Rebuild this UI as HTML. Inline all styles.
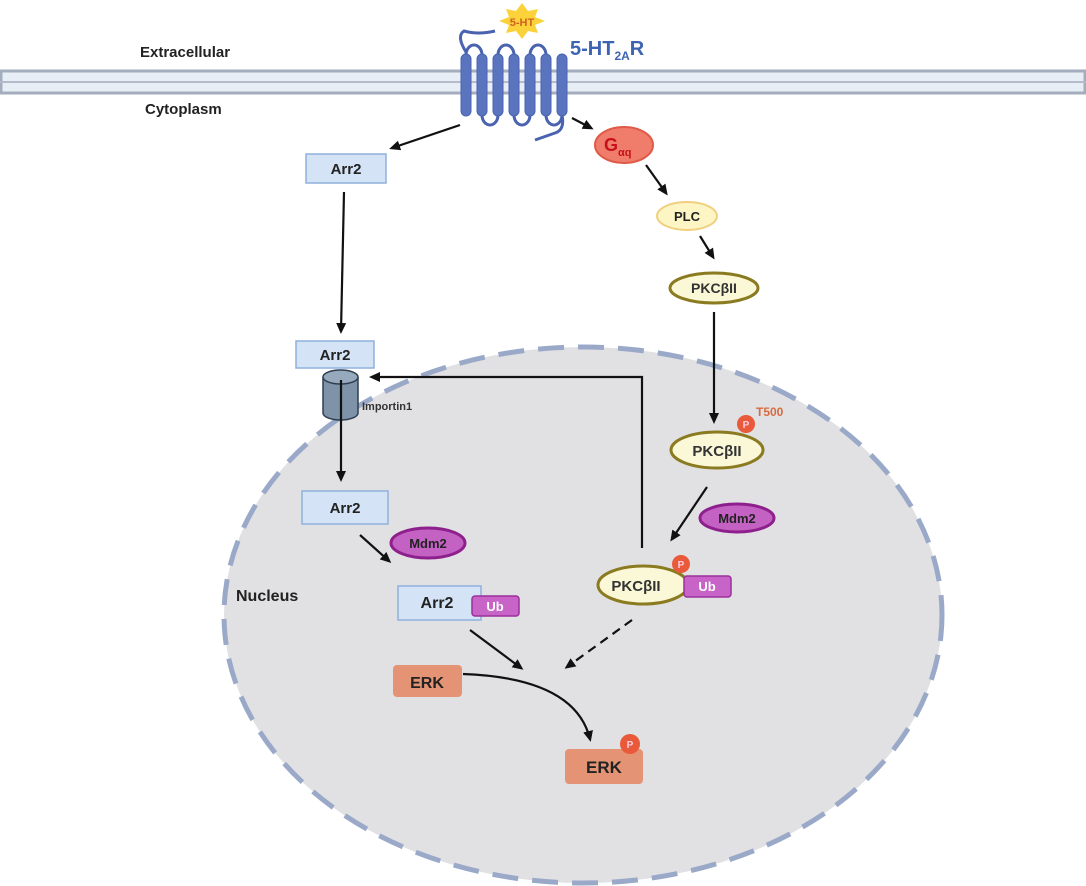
<!DOCTYPE html>
<html><head><meta charset="utf-8"><style>
html,body{margin:0;padding:0;background:#fff}
svg{display:block}
text{font-family:"Liberation Sans",Arial,sans-serif;font-weight:bold}
</style></head><body>
<svg width="1086" height="886" viewBox="0 0 1086 886" xmlns="http://www.w3.org/2000/svg">
<defs>
<marker id="ah" markerWidth="11" markerHeight="10" refX="8" refY="5" orient="auto" markerUnits="userSpaceOnUse"><path d="M0,0 L11,5 L0,10 Z" fill="#111"/></marker>
</defs>
<ellipse cx="583" cy="615" rx="359" ry="268" fill="#e1e1e3" stroke="#9ba9c9" stroke-width="5" stroke-dasharray="26,14"/>
<rect x="1" y="71" width="1084" height="22" fill="#e8eef6" stroke="#a3adbd" stroke-width="3"/>
<line x1="0" y1="82" x2="1086" y2="82" stroke="#b4bccb" stroke-width="2"/>
<text x="140" y="57" font-size="15" fill="#222">Extracellular</text>
<text x="145" y="114" font-size="15" fill="#222">Cytoplasm</text>
<text x="236" y="601" font-size="16" fill="#222">Nucleus</text>
<!-- receptor -->
<g fill="none" stroke="#4a63b0" stroke-width="3">
<path d="M466,52 Q456,36 464,31 Q478,35 495,31"/>
<path d="M466,55 A8,10 0 0 1 482,55"/>
<path d="M498,55 A8,10 0 0 1 514,55"/>
<path d="M530,55 A8,10 0 0 1 546,55"/>
<path d="M482,115 A8,10 0 0 0 498,115"/>
<path d="M514,115 A8,10 0 0 0 530,115"/>
<path d="M546,115 A8,10 0 0 0 562,115"/>
<path d="M562,115 Q565,130 555,133 L535,140"/>
</g>
<g fill="#5a74c0" stroke="#4a63b0" stroke-width="1">
<rect x="461" y="54" width="10" height="62" rx="5"/>
<rect x="477" y="54" width="10" height="62" rx="5"/>
<rect x="493" y="54" width="10" height="62" rx="5"/>
<rect x="509" y="54" width="10" height="62" rx="5"/>
<rect x="525" y="54" width="10" height="62" rx="5"/>
<rect x="541" y="54" width="10" height="62" rx="5"/>
<rect x="557" y="54" width="10" height="62" rx="5"/>
</g>
<polygon points="522,3 528,11 538,9 535,17 545,21 535,25 538,33 528,31 522,39 516,31 506,33 509,25 499,21 509,17 506,9 516,11" fill="#fbd23a"/>
<text x="522" y="26" font-size="11" fill="#d06020" text-anchor="middle">5-HT</text>
<text x="570" y="55" font-size="20" fill="#3d64b0">5-HT<tspan font-size="12" dy="5">2A</tspan><tspan dy="-5">R</tspan></text>
<!-- arrows -->
<g stroke="#111" stroke-width="2.2" fill="none" marker-end="url(#ah)">
<line x1="460" y1="125" x2="392" y2="148"/>
<line x1="572" y1="118" x2="591" y2="128"/>
<line x1="646" y1="165" x2="666" y2="193"/>
<line x1="700" y1="236" x2="713" y2="257"/>
<line x1="344" y1="192" x2="341" y2="331"/>
<polyline points="642,548 642,377 372,377"/>
<line x1="714" y1="312" x2="714" y2="421"/>
<line x1="707" y1="487" x2="672" y2="539"/>
<line x1="360" y1="535" x2="389" y2="561"/>
<line x1="470" y1="630" x2="521" y2="668"/>
<path d="M463,674 Q575,678 590,739"/>
</g>
<line x1="632" y1="620" x2="567" y2="667" stroke="#111" stroke-width="2.2" stroke-dasharray="9,6" marker-end="url(#ah)"/>
<!-- Gaq, PLC, PKC -->
<ellipse cx="624" cy="145" rx="29" ry="18" fill="#f07c6c" stroke="#e05a48" stroke-width="2"/>
<text x="604" y="151" font-size="18" fill="#c8101c">G<tspan font-size="11" dy="5">αq</tspan></text>
<ellipse cx="687" cy="216" rx="30" ry="14" fill="#fdf6c4" stroke="#f0d080" stroke-width="2"/>
<text x="687" y="221" font-size="13" fill="#222" text-anchor="middle">PLC</text>
<ellipse cx="714" cy="288" rx="44" ry="15" fill="#fbf8d8" stroke="#8a7a20" stroke-width="3"/>
<text x="714" y="293" font-size="14" fill="#333" text-anchor="middle" font-weight="normal">PKCβII</text>
<ellipse cx="717" cy="450" rx="46" ry="18" fill="#fbf8d8" stroke="#8a7a20" stroke-width="3"/>
<text x="717" y="456" font-size="15" fill="#333" text-anchor="middle" font-weight="normal">PKCβII</text>
<circle cx="746" cy="424" r="9" fill="#e85a3a"/><text x="746" y="428" font-size="10" fill="#fcd" text-anchor="middle" font-weight="normal">P</text>
<text x="756" y="416" font-size="12" fill="#d86a40">T500</text>
<ellipse cx="737" cy="518" rx="37" ry="14" fill="#c462c4" stroke="#8e208e" stroke-width="3"/>
<text x="737" y="523" font-size="13" fill="#222" text-anchor="middle">Mdm2</text>
<ellipse cx="643" cy="585" rx="45" ry="19" fill="#fbf8d8" stroke="#8a7a20" stroke-width="3"/>
<text x="636" y="591" font-size="15" fill="#333" text-anchor="middle" font-weight="normal">PKCβII</text>
<circle cx="681" cy="564" r="9" fill="#e85a3a"/><text x="681" y="568" font-size="10" fill="#fcd" text-anchor="middle" font-weight="normal">P</text>
<rect x="684" y="576" width="47" height="21" rx="3" fill="#c864c8" stroke="#9a309a" stroke-width="1.5"/>
<text x="707" y="591" font-size="13" fill="#fff" text-anchor="middle">Ub</text>
<!-- Arr2 path -->
<rect x="306" y="154" width="80" height="29" fill="#d4e4f6" stroke="#8fb1dc" stroke-width="1.5"/>
<text x="346" y="174" font-size="15" fill="#222" text-anchor="middle">Arr2</text>
<rect x="296" y="341" width="78" height="27" fill="#d4e4f6" stroke="#8fb1dc" stroke-width="1.5"/>
<text x="335" y="360" font-size="15" fill="#222" text-anchor="middle">Arr2</text>
<path d="M323,377 L323,413 A17.5,7 0 0 0 358,413 L358,377" fill="#7e92a8" stroke="#2e3e50" stroke-width="1.5"/>
<ellipse cx="340.5" cy="377" rx="17.5" ry="7" fill="#97aabd" stroke="#2e3e50" stroke-width="1.5"/>
<line x1="341" y1="380" x2="341" y2="479" stroke="#111" stroke-width="2.2" marker-end="url(#ah)"/>
<text x="362" y="410" font-size="11" fill="#333">Importin1</text>
<rect x="302" y="491" width="86" height="33" fill="#d4e4f6" stroke="#8fb1dc" stroke-width="1.5"/>
<text x="345" y="513" font-size="15" fill="#222" text-anchor="middle">Arr2</text>
<ellipse cx="428" cy="543" rx="37" ry="15" fill="#c462c4" stroke="#8e208e" stroke-width="3"/>
<text x="428" y="548" font-size="13" fill="#222" text-anchor="middle">Mdm2</text>
<rect x="398" y="586" width="83" height="34" fill="#d4e4f6" stroke="#8fb1dc" stroke-width="1.5"/>
<text x="437" y="608" font-size="16" fill="#222" text-anchor="middle">Arr2</text>
<rect x="472" y="596" width="47" height="20" rx="3" fill="#c864c8" stroke="#9a309a" stroke-width="1.5"/>
<text x="495" y="611" font-size="13" fill="#fff" text-anchor="middle">Ub</text>
<!-- ERK -->
<rect x="393" y="665" width="69" height="32" rx="4" fill="#e49474"/>
<text x="427" y="688" font-size="16" fill="#222" text-anchor="middle">ERK</text>
<rect x="565" y="749" width="78" height="35" rx="4" fill="#e49474"/>
<text x="604" y="773" font-size="17" fill="#222" text-anchor="middle">ERK</text>
<circle cx="630" cy="744" r="10" fill="#e85a3a"/><text x="630" y="748" font-size="10" fill="#fcd" text-anchor="middle" font-weight="normal">P</text>
</svg>
</body></html>
